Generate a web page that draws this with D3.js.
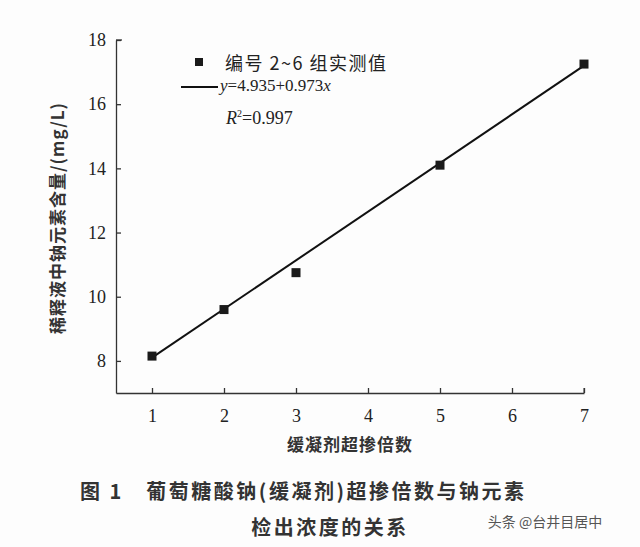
<!DOCTYPE html>
<html><head><meta charset="utf-8">
<script src="https://cdn.jsdelivr.net/npm/d3@7"></script>
<style>body{margin:0;background:#fdfdfd}</style>
</head><body><div id="chart"></div>
<script>
const xs = [1, 2, 3, 5, 7]
const ys = [8.15, 9.6, 10.75, 14.1, 17.25]
const fitX = [1, 7]
const fitY = [8.1, 17.2]
const xTicks = [1, 2, 3, 4, 5, 6, 7]
const yTicks = [8, 10, 12, 14, 16, 18]

const w = 640, h = 547
const svg = d3.select('#chart').append('svg').attr('width', w).attr('height', h)
const serif = 'Times New Roman, Liberation Serif, serif'
const cjk = 'Noto Sans CJK SC, sans-serif'

const x = d3.scaleLinear().domain([0.5, 7]).range([116, 584])
const y = d3.scaleLinear().domain([7, 18]).range([393, 40])

const xAxis = svg.append('g').attr('transform', 'translate(0,393)')
  .call(d3.axisBottom(x).tickValues(xTicks).tickFormat(d3.format('d')).tickSize(-5).tickPadding(16).tickSizeOuter(0))
const yAxis = svg.append('g').attr('transform', 'translate(116,0)')
  .call(d3.axisLeft(y).tickValues(yTicks).tickFormat(d3.format('d')).tickSize(-5).tickPadding(10).tickSizeOuter(0))
;[xAxis, yAxis].forEach(g => {
  g.selectAll('path,line').attr('stroke', '#333').attr('stroke-width', 1.3)
  g.selectAll('text').attr('font-family', serif).attr('font-size', 18).attr('fill', '#222')
})
svg.append('line').attr('x1', 584).attr('x2', 584).attr('y1', 393).attr('y2', 388).attr('stroke', '#333')
svg.append('line').attr('x1', 116).attr('x2', 122).attr('y1', 40).attr('y2', 40).attr('stroke', '#333').attr('stroke-width', 1.3)

svg.append('line')
  .attr('x1', x(fitX[0])).attr('y1', y(fitY[0]))
  .attr('x2', x(fitX[1])).attr('y2', y(fitY[1]))
  .attr('stroke', '#111').attr('stroke-width', 2)

svg.selectAll('rect.pt').data(xs).enter().append('rect')
  .attr('x', (d) => x(d) - 4.5)
  .attr('y', (d, i) => y(ys[i]) - 4.5)
  .attr('width', 9).attr('height', 9).attr('fill', '#1a1a1a')

// legend
svg.append('rect').attr('x', 195).attr('y', 58).attr('width', 8).attr('height', 8).attr('fill', '#1a1a1a')
svg.append('text').attr('x', 225).attr('y', 70).attr('font-family', cjk).attr('font-size', 18).attr('letter-spacing', 1.5).attr('fill', '#222').text('编号 2~6 组实测值')
svg.append('line').attr('x1', 181).attr('x2', 218).attr('y1', 87).attr('y2', 87).attr('stroke', '#111').attr('stroke-width', 2)
const eq = svg.append('text').attr('x', 220).attr('y', 91).attr('font-family', serif).attr('font-size', 17).attr('fill', '#222')
eq.append('tspan').attr('font-style', 'italic').text('y')
eq.append('tspan').text('=4.935+0.973')
eq.append('tspan').attr('font-style', 'italic').text('x')
const r2 = svg.append('text').attr('x', 226).attr('y', 124).attr('font-family', serif).attr('font-size', 18).attr('fill', '#222')
r2.append('tspan').attr('font-style', 'italic').text('R')
r2.append('tspan').attr('font-size', 10).attr('dy', -7).text('2')
r2.append('tspan').attr('dy', 7).text('=0.997')

svg.append('text').attr('x', 350).attr('y', 451).attr('text-anchor', 'middle').attr('letter-spacing', 1)
  .attr('font-family', cjk).attr('font-weight', 'bold').attr('font-size', 17).attr('fill', '#333').text('缓凝剂超掺倍数')
svg.append('text').attr('transform', 'translate(64,218) rotate(-90)').attr('text-anchor', 'middle').attr('letter-spacing', 1)
  .attr('font-family', cjk).attr('font-weight', 'bold').attr('font-size', 17).attr('fill', '#333')
  .text('稀释液中钠元素含量/(mg/L)')

svg.append('text').attr('x', 80).attr('y', 499).attr('font-family', cjk).attr('font-weight', 'bold').attr('font-size', 20).attr('letter-spacing', 2.5).attr('fill', '#333')
  .text('图 1　葡萄糖酸钠(缓凝剂)超掺倍数与钠元素')
svg.append('text').attr('x', 330).attr('y', 535).attr('text-anchor', 'middle').attr('font-family', cjk).attr('font-weight', 'bold').attr('font-size', 20).attr('letter-spacing', 2.5).attr('fill', '#333')
  .text('检出浓度的关系')
svg.append('text').attr('x', 545).attr('y', 527).attr('text-anchor', 'middle').attr('font-family', cjk).attr('font-size', 14).attr('fill', '#555')
  .text('头条 @台井目居中')
</script></body></html>
